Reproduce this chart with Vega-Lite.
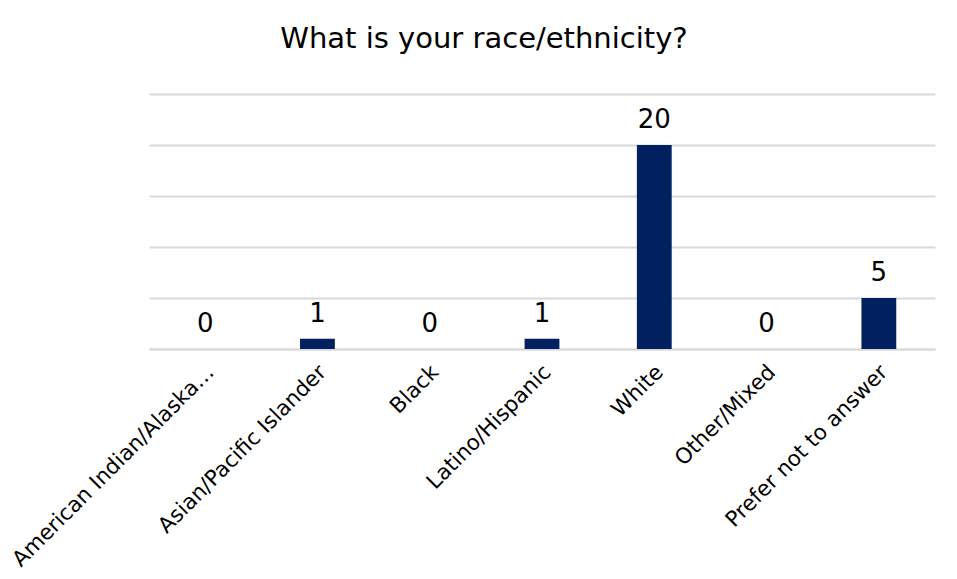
{
  "$schema": "https://vega.github.io/schema/vega-lite/v6.json",
  "width": 786,
  "height": 255,
  "autosize": "none",
  "padding": {"left": 149, "top": 94, "right": 22, "bottom": 230},
  "background": "white",
  "title": {
    "text": "What is your race/ethnicity?",
    "font": "DejaVu Sans",
    "fontSize": 29,
    "fontWeight": "normal",
    "color": "#000000",
    "anchor": "middle",
    "frame": "group",
    "baseline": "alphabetic",
    "offset": 17,
    "dx": -58
  },
  "data": {
    "values": [
      {"group": "American Indian/Alaska Native", "count": 0},
      {"group": "Asian/Pacific Islander", "count": 1},
      {"group": "Black", "count": 0},
      {"group": "Latino/Hispanic", "count": 1},
      {"group": "White", "count": 20},
      {"group": "Other/Mixed", "count": 0},
      {"group": "Prefer not to answer", "count": 5}
    ]
  },
  "encoding": {
    "x": {
      "field": "group",
      "type": "nominal",
      "sort": null,
      "scale": {"paddingInner": 0.69, "paddingOuter": 0.345},
      "axis": {
        "title": null,
        "labelAngle": -45,
        "labelFont": "DejaVu Sans",
        "labelFontSize": 21.5,
        "labelColor": "#000000",
        "labelPadding": 12,
        "labelOffset": -2,
        "labelLimit": 400,
        "labelExpr": "datum.label == 'American Indian/Alaska Native' ? 'American Indian/Alaska…' : datum.label",
        "ticks": false,
        "domainColor": "#d9d9d9",
        "domainWidth": 2,
        "grid": false
      }
    },
    "y": {
      "field": "count",
      "type": "quantitative",
      "scale": {"domain": [0, 25]},
      "axis": {
        "title": null,
        "labels": false,
        "ticks": false,
        "domain": false,
        "values": [0, 5, 10, 15, 20, 25],
        "gridColor": "#d9d9d9",
        "gridWidth": 2
      }
    }
  },
  "layer": [
    {"mark": {"type": "bar", "color": "#002060"}},
    {
      "mark": {
        "type": "text",
        "font": "DejaVu Sans",
        "fontSize": 26,
        "color": "#000000",
        "baseline": "alphabetic",
        "dy": -17
      },
      "encoding": {"text": {"field": "count", "type": "quantitative"}}
    }
  ],
  "config": {"view": {"stroke": null}}
}
